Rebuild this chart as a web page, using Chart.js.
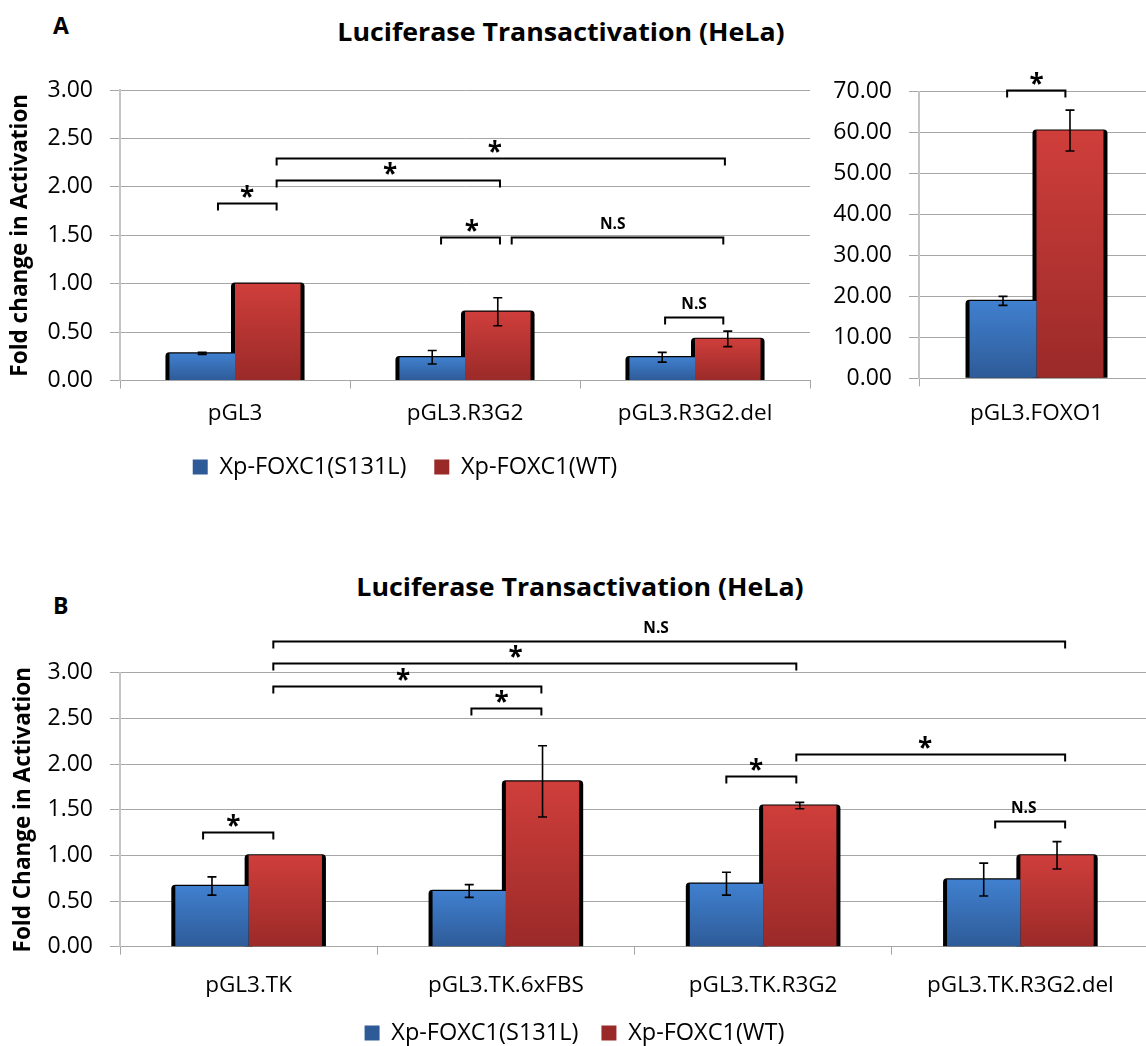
<!DOCTYPE html>
<html>
<head>
<meta charset="utf-8">
<script src="https://cdn.jsdelivr.net/npm/chart.js@4.4.1/dist/chart.umd.min.js"></script>
<style>
html, body { margin: 0; padding: 0; background: #fff; }
body { width: 1146px; height: 1046px; overflow: hidden; position: relative; font-family: 'Open Sans', sans-serif; color: #000; }
canvas { position: absolute; }
.t { position: absolute; font-weight: bold; line-height: 1; white-space: nowrap; }
.title { width: 600px; text-align: center; font-size: 25px; transform: scaleX(1.07); transform-origin: 50% 50%; }
</style>
</head>
<body>
<div class="t" style="left:53px;top:14.3px;font-size:23px;">A</div>
<div class="t title" style="left:261px;top:18.8px;">Luciferase Transactivation (HeLa)</div>
<div class="t" style="left:53px;top:593.5px;font-size:23px;">B</div>
<div class="t title" style="left:280px;top:573.8px;">Luciferase Transactivation (HeLa)</div>

<canvas id="chartA" width="818" height="450" style="left:0;top:40px"></canvas>
<canvas id="chartFoxo" width="350" height="400" style="left:810px;top:40px"></canvas>
<canvas id="chartB" width="1157" height="455" style="left:0;top:600px"></canvas>

<script>
// Series names (legend)
const seriesNames = ['Xp-FOXC1(S131L)', 'Xp-FOXC1(WT)'];

// Panel A: reporter constructs
const catsA = ['pGL3', 'pGL3.R3G2', 'pGL3.R3G2.del'];
const mutA = [0.28, 0.24, 0.24];
const mutErrA = [0.01, 0.07, 0.05];
const wtA = [1.00, 0.71, 0.43];
const wtErrA = [0, 0.145, 0.08];

// Panel A, positive control on its own scale
const catsFoxo = ['pGL3.FOXO1'];
const mutFoxo = [18.9];
const mutErrFoxo = [1.1];
const wtFoxo = [60.5];
const wtErrFoxo = [5.0];

// Panel B: TK-promoter constructs
const catsB = ['pGL3.TK', 'pGL3.TK.6xFBS', 'pGL3.TK.R3G2', 'pGL3.TK.R3G2.del'];
const mutB = [0.665, 0.61, 0.69, 0.735];
const mutErrB = [0.10, 0.07, 0.125, 0.18];
const wtB = [1.00, 1.81, 1.545, 1.00];
const wtErrB = [0, 0.39, 0.035, 0.15];

// Significance brackets: ends in category units (0 = first category centre),
// level in axis units, label centre in category units
const bracketsA = [
  { from: -0.074, to: 0.181, level: 1.834, label: '*', at: 0.052 },
  { from: 0.181, to: 1.152, level: 2.068, label: '*', at: 0.674 },
  { from: 0.181, to: 2.13, level: 2.30, label: '*', at: 1.13 },
  { from: 0.896, to: 1.152, level: 1.486, label: '*', at: 1.03 },
  { from: 1.203, to: 2.123, level: 1.486, label: 'N.S', at: 1.642 },
  { from: 1.87, to: 2.123, level: 0.659, label: 'N.S', at: 1.996 }
];
const bracketsFoxo = [
  { from: -0.125, to: 0.123, level: 70.4, label: '*', at: 0 }
];
const bracketsB = [
  { from: 0.096, to: 3.174, level: 3.35, label: 'N.S', at: 1.584 },
  { from: 0.096, to: 2.129, level: 3.11, label: '*', at: 1.038 },
  { from: 0.096, to: 1.138, level: 2.855, label: '*', at: 0.60 },
  { from: 0.866, to: 1.138, level: 2.61, label: '*', at: 0.983 },
  { from: -0.177, to: 0.096, level: 1.253, label: '*', at: -0.059 },
  { from: 1.857, to: 2.129, level: 1.872, label: '*', at: 1.973 },
  { from: 2.129, to: 3.174, level: 2.11, label: '*', at: 2.63 },
  { from: 2.902, to: 3.174, level: 1.38, label: 'N.S', at: 3.013 }
];

const FONT = "'Open Sans'";
const GRID = '#a6a6a6';
const BLUE = ['#4080cf', '#2e5b98', '#3a6fb3'];
const RED = ['#cf3e3b', '#9a2a28', '#b93533'];

// Vertical gradient per bar, light at the top and darker at the base
function barFill(c) {
  return (ctx) => {
    const chart = ctx.chart;
    if (ctx.type !== 'data' || !chart.chartArea) return c[2];
    const ys = chart.scales.y;
    const yTop = ys.getPixelForValue(ctx.raw);
    const yBot = ys.getPixelForValue(0);
    const g = chart.ctx.createLinearGradient(0, yTop, 0, yBot);
    g.addColorStop(0, c[0]);
    g.addColorStop(1, c[1]);
    return g;
  };
}

function roundTopRect(c, l, t, r, b, rad) {
  c.beginPath();
  c.moveTo(l, b);
  c.lineTo(l, t + rad);
  c.quadraticCurveTo(l, t, l + rad, t);
  c.lineTo(r - rad, t);
  c.quadraticCurveTo(r, t, r, t + rad);
  c.lineTo(r, b);
  c.closePath();
  c.fill();
}

// Dark drop shadow behind the bars, error bars and significance brackets
function overlay(errs, brackets) {
  return {
    id: 'overlay',
    beforeDatasetsDraw(chart) {
      const c = chart.ctx;
      c.save();
      c.fillStyle = '#000';
      chart.data.datasets.forEach((ds, i) => {
        chart.getDatasetMeta(i).data.forEach((bar) => {
          const p = bar.getProps(['x', 'y', 'base', 'width'], true);
          roundTopRect(c, p.x - p.width / 2 - 4, p.y - 1.2, p.x + p.width / 2 + 4, p.base, 4);
        });
      });
      c.restore();
    },
    afterDatasetsDraw(chart) {
      const c = chart.ctx;
      const ys = chart.scales.y;
      const xs = chart.scales.x;
      c.save();
      c.strokeStyle = '#000';
      c.fillStyle = '#000';
      // error bars
      c.lineWidth = 1.6;
      chart.data.datasets.forEach((ds, i) => {
        chart.getDatasetMeta(i).data.forEach((bar, j) => {
          const e = errs[i][j];
          if (!e) return;
          const x = bar.getProps(['x'], true).x;
          const v = ds.data[j];
          const y1 = ys.getPixelForValue(v + e);
          const y2 = ys.getPixelForValue(v - e);
          c.beginPath();
          c.moveTo(x, y1); c.lineTo(x, y2);
          c.moveTo(x - 4.5, y1); c.lineTo(x + 4.5, y1);
          c.moveTo(x - 4.5, y2); c.lineTo(x + 4.5, y2);
          c.stroke();
        });
      });
      // brackets
      const x0 = xs.getPixelForValue(0);
      const cw = (xs.right - xs.left) / chart.data.labels.length;
      const px = (f) => x0 + f * cw;
      c.lineWidth = 2;
      c.textAlign = 'center';
      c.textBaseline = 'alphabetic';
      brackets.forEach((b) => {
        const y = Math.round(ys.getPixelForValue(b.level)) + 0.5;
        const xa = px(b.from), xb = px(b.to);
        c.beginPath();
        c.moveTo(xa, y + 7); c.lineTo(xa, y); c.lineTo(xb, y); c.lineTo(xb, y + 7);
        c.stroke();
        const star = b.label === '*';
        c.font = star ? 'bold 26px ' + FONT : 'bold 15.5px ' + FONT;
        const m = c.measureText(b.label);
        const cy = y - (star ? 12 : 15);
        c.fillText(b.label, px(b.at), cy + (m.actualBoundingBoxAscent - m.actualBoundingBoxDescent) / 2);
      });
      c.restore();
    }
  };
}

function panel(id, o) {
  const ds = (label, data, col) => ({
    label, data,
    backgroundColor: barFill(col),
    borderWidth: 0,
    categoryPercentage: 0.57,
    barPercentage: 1
  });
  return new Chart(document.getElementById(id), {
    type: 'bar',
    data: {
      labels: o.cats,
      datasets: [ds(seriesNames[0], o.mut, BLUE), ds(seriesNames[1], o.wt, RED)]
    },
    options: {
      responsive: false,
      animation: false,
      devicePixelRatio: 1,
      layout: { padding: o.pad },
      plugins: {
        legend: {
          display: o.legend,
          position: 'bottom',
          labels: { font: { family: FONT, size: 23.5 }, color: '#000', boxWidth: 15, boxHeight: 15, padding: o.lpad || 10 }
        },
        tooltip: { enabled: false }
      },
      scales: {
        x: {
          grid: { display: true, drawOnChartArea: false, tickLength: 8, color: GRID, offset: true },
          border: { color: GRID },
          ticks: { font: { family: FONT, size: 22.5 }, color: '#000', padding: o.xpad, autoSkip: false, maxRotation: 0 },
          afterFit(s) { s.height = o.xh; }
        },
        y: {
          min: 0, max: o.max,
          grid: { color: GRID, tickLength: 10 },
          border: { color: '#c4c4c4', width: 2 },
          ticks: { stepSize: o.step, font: { family: FONT, size: 23 }, color: '#000', padding: 17, callback: (v) => v.toFixed(2) },
          title: {
            display: !!o.ytitle, text: o.ytitle || '',
            font: { family: FONT, size: 22.5, weight: 'bold' }, color: '#000',
            padding: { top: o.tpad || 0, bottom: 0 }
          },
          afterFit(s) { s.width = o.yw; }
        }
      }
    },
    plugins: [overlay([o.mutErr, o.wtErr], o.brackets)]
  });
}

panel('chartA', {
  cats: catsA, mut: mutA, wt: wtA, mutErr: mutErrA, wtErr: wtErrA, brackets: bracketsA,
  max: 3, step: 0.5, yw: 120, xh: 47, xpad: 11.3, legend: true, lpad: 27.75,
  pad: { top: 50, right: 8, bottom: 1.25, left: 0 },
  ytitle: 'Fold change in Activation', tpad: 7.5
});

panel('chartFoxo', {
  cats: catsFoxo, mut: mutFoxo, wt: wtFoxo, mutErr: mutErrFoxo, wtErr: wtErrFoxo, brackets: bracketsFoxo,
  max: 70, step: 10, yw: 109, xh: 60, xpad: 13.5, legend: false,
  pad: { top: 51.7, right: 6, bottom: 1.7, left: 0 }
});

panel('chartB', {
  cats: catsB, mut: mutB, wt: wtB, mutErr: mutErrB, wtErr: wtErrB, brackets: bracketsB,
  max: 3, step: 0.5, yw: 120, xh: 51.5, xpad: 17.1, legend: true, lpad: 23.05,
  pad: { top: 72.7, right: 8, bottom: 0.25, left: 0 },
  ytitle: 'Fold Change in Activation', tpad: 10.5
});
</script>
</body>
</html>
